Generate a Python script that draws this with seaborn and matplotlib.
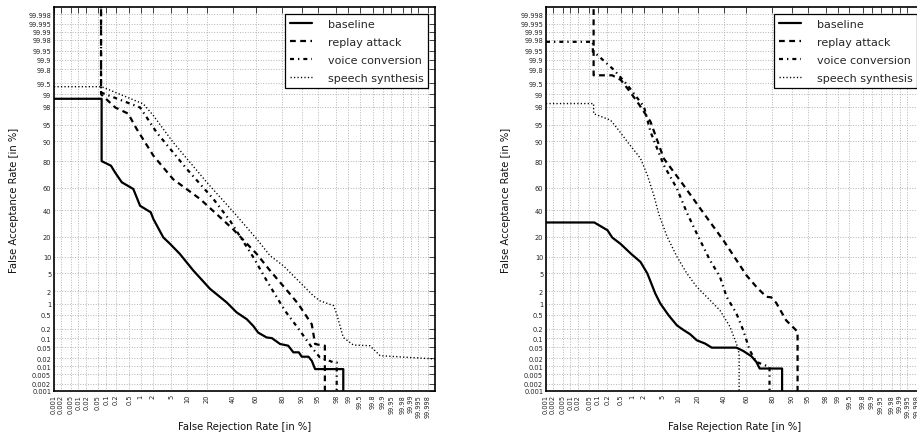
import numpy as np
import pandas as pd
import matplotlib
matplotlib.use("Agg")
import matplotlib.pyplot as plt
import seaborn as sns
from statistics import NormalDist

# ---------------- data (percent) ----------------
TICKS = [0.001, 0.002, 0.005, 0.01, 0.02, 0.05, 0.1, 0.2, 0.5, 1, 2, 5, 10, 20, 40,
         60, 80, 90, 95, 98, 99, 99.5, 99.8, 99.9, 99.95, 99.98, 99.99, 99.995, 99.998]
TICK_LABELS = ["0.001", "0.002", "0.005", "0.01", "0.02", "0.05", "0.1", "0.2", "0.5",
               "1", "2", "5", "10", "20", "40", "60", "80", "90", "95", "98", "99",
               "99.5", "99.8", "99.9", "99.95", "99.98", "99.99", "99.995", "99.998"]
SERIES = ["baseline", "replay attack", "voice conversion", "speech synthesis"]

# Left panel
L_base_frr = [0.001, 0.069, 0.069, 0.14, 0.187, 0.3, 0.64, 0.97, 1.79, 2.07, 3.45, 4.8, 7.4,
              12.6, 22, 34.5, 43, 52, 57.8, 62, 69, 73, 78.7, 83.6, 86.3, 88.8, 90, 92.4,
              93.4, 94.3, 98.65, 98.65]
L_base_far = [98.7, 98.7, 80, 77, 72.3, 64.5, 58.8, 44, 38.4, 32.8, 19.7, 15.9, 11.1,
              5.6, 2.3, 1.08, 0.59, 0.38, 0.24, 0.15, 0.105, 0.1, 0.064, 0.056, 0.033, 0.033,
              0.023, 0.023, 0.0163, 0.0079, 0.0079, 0.0001]
L_rep_frr = [0.066, 0.066, 0.19, 0.46, 0.79, 2.07, 5.5, 16, 30, 40, 60.8, 71.6, 84.6, 88.6,
             93.4, 94.3, 96.1, 96.4, 96.4]
L_rep_far = [99.99999, 99.0, 97.9, 97.1, 94, 83.2, 67, 50, 33.5, 25, 11.1, 5.6, 1.74, 0.98,
             0.27, 0.064, 0.056, 0.056, 0.0001]
L_vc_frr = [0.066, 0.066, 0.97, 1.43, 2.47, 9.8, 24.3, 37.3, 57.8, 69, 81.8, 89.3, 93.4,
            95.4, 97.7, 98.05, 98.05]
L_vc_far = [99.99999, 99.1, 97.9, 96.5, 93, 74.8, 50, 31.5, 9.8, 3.5, 0.65, 0.17, 0.049,
            0.022, 0.0142, 0.0142, 0.0001]
L_ss_frr = [0.001, 0.069, 1.18, 2.07, 5.5, 19.9, 43, 60.8, 71.6, 80.8, 89.3, 93.8, 95.4,
            97.7, 98.05, 98.65, 99.26, 99.75, 99.88, 99.999]
L_ss_far = [99.37, 99.37, 98.26, 96.8, 89.6, 64.5, 35.6, 18.7, 10.4, 6.9, 3.2, 1.59, 1.19,
            0.89, 0.53, 0.105, 0.059, 0.056, 0.025, 0.019]

# Right panel
R_base_frr = [0.001, 0.075, 0.2, 0.28, 0.5, 0.93, 1.65, 2.4, 3.6, 4.6, 6.7, 9.5, 12.3,
              15.6, 19.4, 25, 30, 51.3, 57.3, 64.4, 68.5, 71.1, 85.6, 85.6]
R_base_far = [30.1, 30.1, 24.4, 19.6, 15.8, 11.3, 8.1, 4.9, 1.79, 1.01, 0.49, 0.25, 0.18,
              0.133, 0.085, 0.066, 0.048, 0.048, 0.037, 0.024, 0.0148, 0.0083, 0.0083, 0.0001]
R_rep_frr = [0.071, 0.071, 0.28, 0.5, 0.76, 1.37, 2.83, 5.4, 12.3, 25, 39.6, 54.3, 60.2,
             68.5, 76, 79.3, 82.4, 87.6, 92.1, 92.1]
R_rep_far = [99.99999, 99.7, 99.7, 99.59, 99.3, 98.46, 95.7, 81.6, 62, 35.9, 18, 7.1, 4.5,
             2.55, 1.49, 1.45, 1.05, 0.35, 0.16, 0.0001]
R_vc_frr = [0.001, 0.067, 0.067, 0.097, 0.32, 0.76, 2.0, 2.83, 5.4, 9.5, 13.9, 19.4, 28.6,
            36.7, 42.5, 51.3, 57.3, 63, 68.5, 78.2, 78.2]
R_vc_far = [99.976, 99.976, 99.946, 99.93, 99.79, 99.43, 97.98, 93.2, 77.4, 59.2, 38, 22.2,
            8.7, 4.2, 1.49, 0.55, 0.18, 0.039, 0.0148, 0.0095, 0.0001]
R_ss_frr = [0.001, 0.071, 0.071, 0.25, 0.4, 0.76, 1.65, 2.4, 3.35, 4.3, 6.3, 9.5, 13.9,
            19.4, 28.6, 36.7, 45.4, 51.3, 53.7, 53.7]
R_ss_far = [98.3, 98.3, 97.1, 96, 94.1, 89.8, 81.6, 70.2, 53.3, 36.5, 20, 10, 4.9, 2.55,
            1.23, 0.67, 0.23, 0.066, 0.03, 0.0001]

# ---------------- probit scale ----------------
_nd = NormalDist()
_ppf = np.vectorize(lambda p: _nd.inv_cdf(min(max(p, 1e-13), 1 - 1e-13)), otypes=[float])
_cdf = np.vectorize(lambda z: _nd.cdf(z), otypes=[float])


def fwd(x):
    x = np.asarray(x, dtype=float)
    return _ppf(x / 100.0)


def inv(z):
    z = np.asarray(z, dtype=float)
    return _cdf(z) * 100.0


sns.set_theme(style="white")
plt.rcParams["font.family"] = ["DejaVu Sans"]

fig = plt.figure(figsize=(9.17, 4.35), dpi=100)
W, H = 917, 435
ax1 = fig.add_axes([54 / W, 43 / H, 381 / W, 384 / H])
ax2 = fig.add_axes([546 / W, 43 / H, 378 / W, 384 / H])

styles = {
    "baseline": dict(linestyle="-", linewidth=1.6),
    "replay attack": dict(linestyle=(0, (2.6, 2.0)), linewidth=1.6),
    "voice conversion": dict(linestyle=(0, (1.8, 1.8, 0.6, 1.8)), linewidth=1.6),
    "speech synthesis": dict(linestyle=(0, (0.9, 1.6)), linewidth=1.0),
}

panels = [
    (ax1, [(L_base_frr, L_base_far), (L_rep_frr, L_rep_far), (L_vc_frr, L_vc_far), (L_ss_frr, L_ss_far)]),
    (ax2, [(R_base_frr, R_base_far), (R_rep_frr, R_rep_far), (R_vc_frr, R_vc_far), (R_ss_frr, R_ss_far)]),
]

for ax, data in panels:
    ax.set_xscale("function", functions=(fwd, inv))
    ax.set_yscale("function", functions=(fwd, inv))
    for name, (frr, far) in zip(SERIES, data):
        df = pd.DataFrame({"frr": frr, "far": far})
        sns.lineplot(data=df, x="frr", y="far", ax=ax, sort=False, estimator=None,
                     color="black", label=name, **styles[name])
    ax.set_xlim(0.001, 99.999)
    ax.set_ylim(0.001, 99.999)
    ax.set_xticks(TICKS)
    ax.set_xticklabels(TICK_LABELS, rotation=90)
    ax.set_yticks(TICKS)
    ax.set_yticklabels(TICK_LABELS)
    ax.minorticks_off()
    ax.grid(True, color="#b4b4b4", linestyle=":", linewidth=0.7)
    ax.tick_params(direction="in", top=True, right=True, length=4, width=0.6,
                   labelsize=4.8, colors="#222222", pad=2)
    for s in ax.spines.values():
        s.set_color("black")
        s.set_linewidth(1.2)
    ax.set_xlabel("False Rejection Rate [in %]", fontsize=7.2, labelpad=3, color="#111111")
    ax.set_ylabel("False Acceptance Rate [in %]", fontsize=7.2, labelpad=7, color="#111111")
    leg = ax.legend(loc="upper right", fontsize=8.0, fancybox=False, framealpha=1,
                    edgecolor="black", handlelength=2.0, handletextpad=1.4,
                    borderpad=0.45, labelspacing=0.72, borderaxespad=0.6)
    leg.get_frame().set_linewidth(0.9)

fig.savefig("out.png", dpi=100)
